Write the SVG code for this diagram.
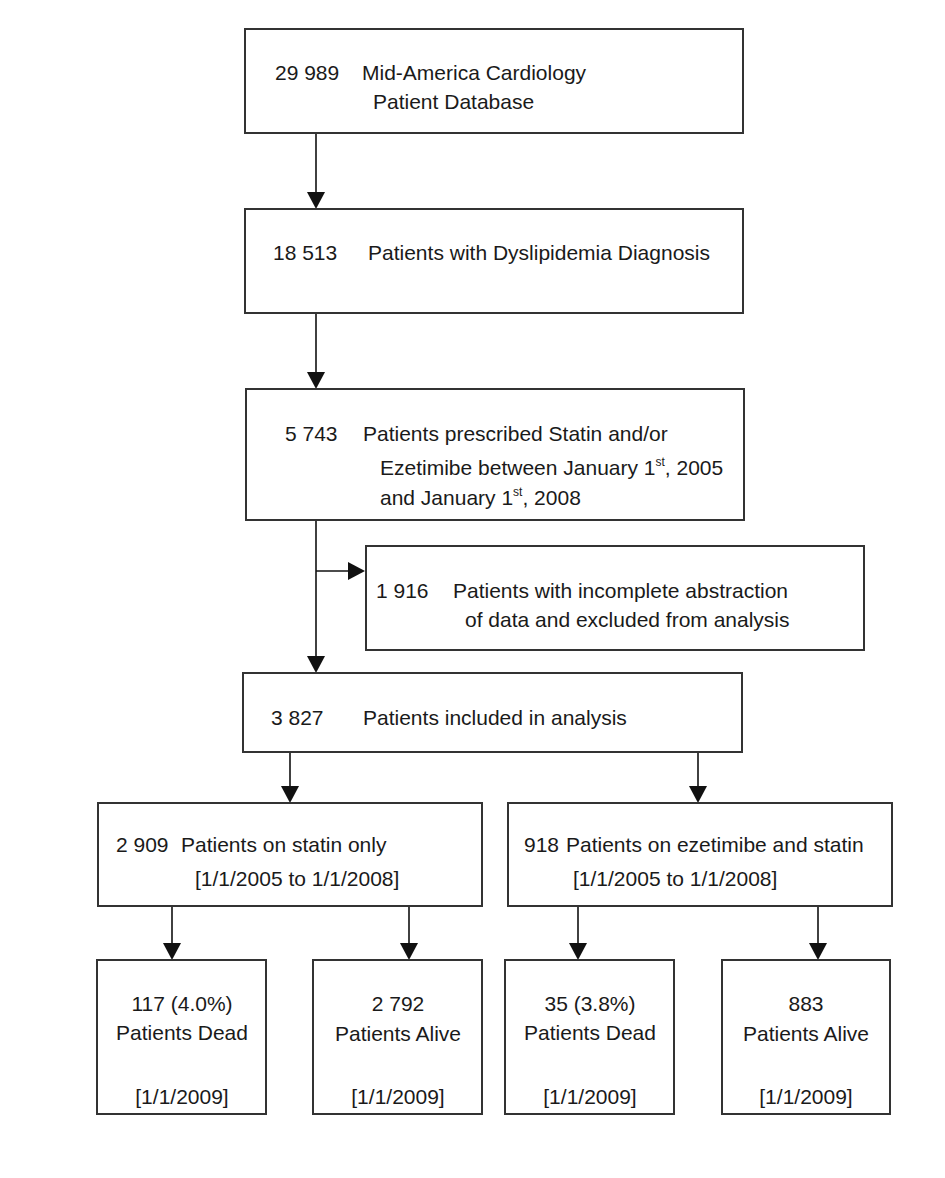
<svg xmlns="http://www.w3.org/2000/svg" width="945" height="1178" viewBox="0 0 945 1178">
<defs>
<style>
.box{fill:#fff;stroke:#333;stroke-width:2}
.ln{stroke:#111;stroke-width:1.6;fill:none}
.hd{fill:#111}
text{font-family:"Liberation Sans",Arial,sans-serif;font-size:21px;fill:#1a1a1a}
.c{text-anchor:middle}
.sup{font-size:12px}
</style>
</defs>
<rect width="945" height="1178" fill="#fff"/>
<g id="connectors">
<line class="ln" x1="316" y1="133" x2="316" y2="193"/><path class="hd" d="M307,192 L325,192 L316,209 z"/>
<line class="ln" x1="316" y1="313" x2="316" y2="373"/><path class="hd" d="M307,372 L325,372 L316,389 z"/>
<line class="ln" x1="316" y1="520" x2="316" y2="657"/><path class="hd" d="M307,656 L325,656 L316,673 z"/>
<line class="ln" x1="316" y1="571" x2="349" y2="571"/><path class="hd" d="M348,562 L348,580 L365,571 z"/>
<line class="ln" x1="290" y1="752" x2="290" y2="787"/><path class="hd" d="M281,786 L299,786 L290,803 z"/>
<line class="ln" x1="698" y1="752" x2="698" y2="787"/><path class="hd" d="M689,786 L707,786 L698,803 z"/>
<line class="ln" x1="172" y1="906" x2="172" y2="944"/><path class="hd" d="M163,943 L181,943 L172,960 z"/>
<line class="ln" x1="409" y1="906" x2="409" y2="944"/><path class="hd" d="M400,943 L418,943 L409,960 z"/>
<line class="ln" x1="578" y1="906" x2="578" y2="944"/><path class="hd" d="M569,943 L587,943 L578,960 z"/>
<line class="ln" x1="818" y1="906" x2="818" y2="944"/><path class="hd" d="M809,943 L827,943 L818,960 z"/>
</g>
<g id="n1">
<rect class="box" x="245" y="29" width="498" height="104"/>
<text x="275" y="80">29 989</text>
<text x="362" y="80">Mid-America Cardiology</text>
<text x="373" y="109">Patient Database</text>
</g>
<g id="n2">
<rect class="box" x="245" y="209" width="498" height="104"/>
<text x="273" y="260">18 513</text>
<text x="368" y="260">Patients with Dyslipidemia Diagnosis</text>
</g>
<g id="n3">
<rect class="box" x="246" y="389" width="498" height="131"/>
<text x="285" y="441">5 743</text>
<text x="363" y="441">Patients prescribed Statin and/or</text>
<text x="380" y="475">Ezetimibe between January 1<tspan class="sup" dy="-9">st</tspan><tspan dy="9">, 2005</tspan></text>
<text x="380" y="505">and January 1<tspan class="sup" dy="-9">st</tspan><tspan dy="9">, 2008</tspan></text>
</g>
<g id="n4">
<rect class="box" x="366" y="546" width="498" height="104"/>
<text x="376" y="598">1 916</text>
<text x="453" y="598">Patients with incomplete abstraction</text>
<text x="465" y="627">of data and excluded from analysis</text>
</g>
<g id="n5">
<rect class="box" x="243" y="673" width="499" height="79"/>
<text x="271" y="725">3 827</text>
<text x="363" y="725">Patients included in analysis</text>
</g>
<g id="n6">
<rect class="box" x="98" y="803" width="384" height="103"/>
<text x="116" y="852">2 909</text>
<text x="181" y="852">Patients on statin only</text>
<text x="195" y="886">[1/1/2005 to 1/1/2008]</text>
</g>
<g id="n7">
<rect class="box" x="508" y="803" width="384" height="103"/>
<text x="524" y="852">918</text>
<text x="566" y="852">Patients on ezetimibe and statin</text>
<text x="573" y="886">[1/1/2005 to 1/1/2008]</text>
</g>
<g id="n8">
<rect class="box" x="97" y="960" width="169" height="154"/>
<text class="c" x="182" y="1011">117 (4.0%)</text>
<text class="c" x="182" y="1040">Patients Dead</text>
<text class="c" x="182" y="1104">[1/1/2009]</text>
</g>
<g id="n9">
<rect class="box" x="313" y="960" width="169" height="154"/>
<text class="c" x="398" y="1011">2 792</text>
<text class="c" x="398" y="1041">Patients Alive</text>
<text class="c" x="398" y="1104">[1/1/2009]</text>
</g>
<g id="n10">
<rect class="box" x="505" y="960" width="169" height="154"/>
<text class="c" x="590" y="1011">35 (3.8%)</text>
<text class="c" x="590" y="1040">Patients Dead</text>
<text class="c" x="590" y="1104">[1/1/2009]</text>
</g>
<g id="n11">
<rect class="box" x="722" y="960" width="168" height="154"/>
<text class="c" x="806" y="1011">883</text>
<text class="c" x="806" y="1041">Patients Alive</text>
<text class="c" x="806" y="1104">[1/1/2009]</text>
</g>
</svg>
